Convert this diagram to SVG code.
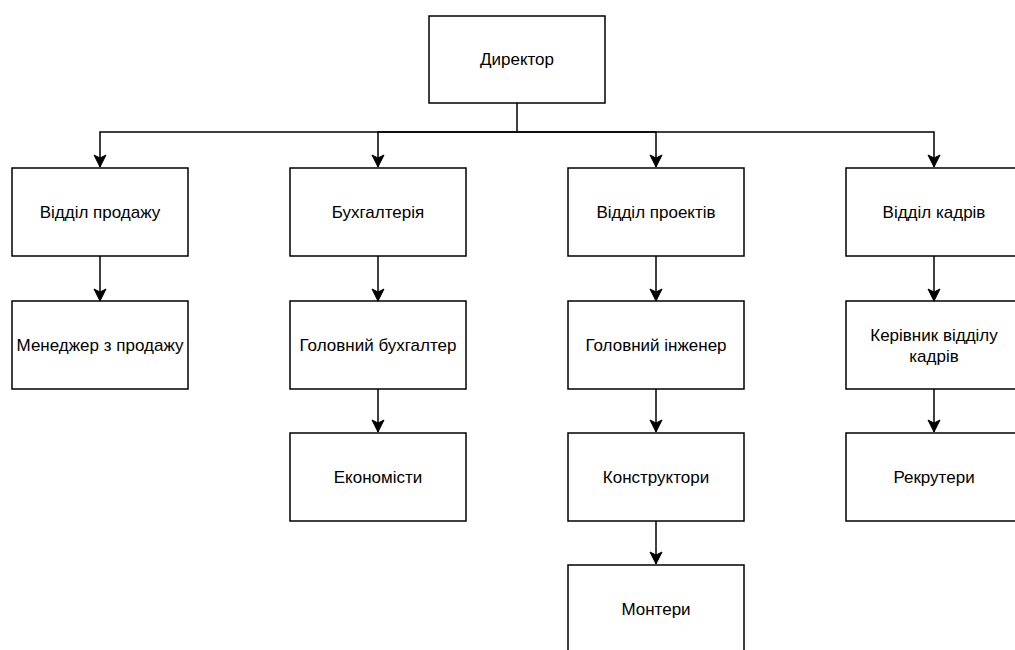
<svg xmlns="http://www.w3.org/2000/svg" width="1015" height="650" viewBox="0 0 1015 650">
<style>
.box{fill:#fff;stroke:#000;stroke-width:1.5}
.lbl{font-family:"Liberation Sans",Arial,sans-serif;font-size:17px;fill:#000;text-anchor:middle;dominant-baseline:central}
.con{fill:none;stroke:#000;stroke-width:1.5}
</style>
<defs>
<marker id="arr" markerUnits="userSpaceOnUse" markerWidth="14" markerHeight="14" viewBox="0 0 14 14" refX="13" refY="7" orient="auto">
<path d="M1,1 L13,7 L1,13 L4,7 z" fill="#000" stroke="#000" stroke-width="1"/>
</marker>
</defs>
<rect width="1015" height="650" fill="#fff"/>
<g id="connectors">
<path class="con" d="M517,103 V132 H100 V167" marker-end="url(#arr)"/>
<path class="con" d="M517,132 H378 V167" marker-end="url(#arr)"/>
<path class="con" d="M517,132 H656 V167" marker-end="url(#arr)"/>
<path class="con" d="M517,132 H934 V167" marker-end="url(#arr)"/>
<path class="con" d="M100,256 V301" marker-end="url(#arr)"/>
<path class="con" d="M378,256 V301" marker-end="url(#arr)"/>
<path class="con" d="M656,256 V301" marker-end="url(#arr)"/>
<path class="con" d="M934,256 V301" marker-end="url(#arr)"/>
<path class="con" d="M378,389 V432" marker-end="url(#arr)"/>
<path class="con" d="M656,389 V432" marker-end="url(#arr)"/>
<path class="con" d="M934,389 V432" marker-end="url(#arr)"/>
<path class="con" d="M656,521 V564" marker-end="url(#arr)"/>
</g>
<g id="director"><rect class="box" x="429" y="16" width="176" height="87"/><text class="lbl" x="517" y="59">Директор</text></g>
<g id="sales"><rect class="box" x="12" y="168" width="176" height="88"/><text class="lbl" x="100" y="212">Відділ продажу</text></g>
<g id="accounting"><rect class="box" x="290" y="168" width="176" height="88"/><text class="lbl" x="378" y="212">Бухгалтерія</text></g>
<g id="projects"><rect class="box" x="568" y="168" width="176" height="88"/><text class="lbl" x="656" y="212">Відділ проектів</text></g>
<g id="hr"><rect class="box" x="846" y="168" width="176" height="88"/><text class="lbl" x="934" y="212">Відділ кадрів</text></g>
<g id="sales-manager"><rect class="box" x="12" y="301" width="176" height="88"/><text class="lbl" x="100" y="345">Менеджер з продажу</text></g>
<g id="chief-accountant"><rect class="box" x="290" y="301" width="176" height="88"/><text class="lbl" x="378" y="345">Головний бухгалтер</text></g>
<g id="chief-engineer"><rect class="box" x="568" y="301" width="176" height="88"/><text class="lbl" x="656" y="345">Головний інженер</text></g>
<g id="hr-head"><rect class="box" x="846" y="301" width="176" height="88"/><text class="lbl" x="934" y="335">Керівник відділу</text><text class="lbl" x="934" y="356">кадрів</text></g>
<g id="economists"><rect class="box" x="290" y="433" width="176" height="88"/><text class="lbl" x="378" y="477">Економісти</text></g>
<g id="designers"><rect class="box" x="568" y="433" width="176" height="88"/><text class="lbl" x="656" y="477">Конструктори</text></g>
<g id="recruiters"><rect class="box" x="846" y="433" width="176" height="88"/><text class="lbl" x="934" y="477">Рекрутери</text></g>
<g id="fitters"><rect class="box" x="568" y="565" width="176" height="88"/><text class="lbl" x="656" y="609">Монтери</text></g>
</svg>
